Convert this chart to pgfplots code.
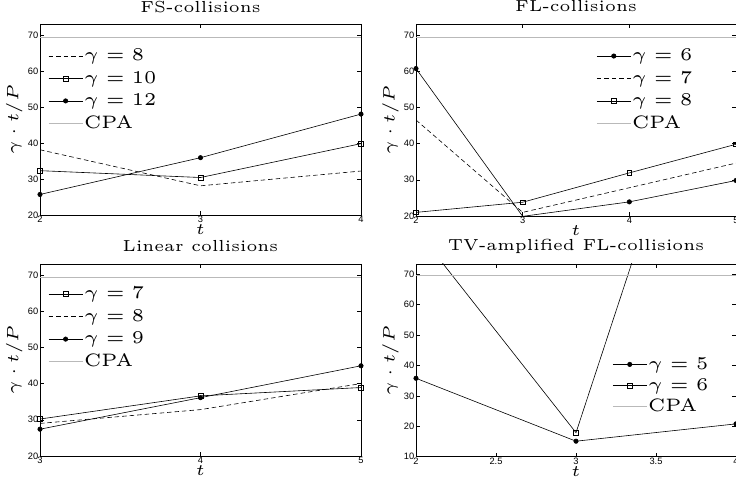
\documentclass[border=0pt]{standalone}
\usepackage{graphicx}
\usepackage{pgfplots}
\pgfplotsset{compat=1.18}
\usepackage{fontspec}
\setsansfont{Liberation Sans}
\newcommand{\cm}[2][3.2]{\scalebox{#1}{\fontsize{5}{6}\selectfont #2}}
\pgfplotsset{
  mystyle/.style={
    scale only axis, width=321pt, height=191pt,
    axis line style={line width=0.9pt},
    tick align=inside, major tick length=4pt,
    every tick/.style={black, line width=0.5pt},
    tick label style={font=\sffamily\fontsize{9.3}{10}\selectfont},
    /pgf/number format/assume math mode=true,
    xticklabel style={inner sep=1pt},
    yticklabel style={inner sep=1.5pt},
    title style={at={(axis description cs:0.5,1.06)}, anchor=center, inner sep=0pt},
    ylabel={\cm[3.3]{$\gamma\cdot t/P$}},
    ylabel style={at={(axis description cs:-0.08,0.5)}, anchor=center, inner sep=0pt},
    xlabel={\cm{$t$}},
    xlabel style={at={(axis description cs:0.5,-0.075)}, anchor=center, inner sep=0pt},
    legend style={draw=none, fill=none, row sep=3pt, inner sep=0pt,
      nodes={inner sep=1pt, text height=13.5pt, text depth=4pt}},
    legend cell align=left,
    legend image code/.code={\draw[mark repeat=2,mark phase=2] plot coordinates {(0pt,0pt)(17pt,0pt)(34pt,0pt)};},
    ymin=20, ymax=73, ytick={20,30,...,70},
    clip=true,
  },
  dotline/.style={black, line width=0.6pt, mark=*, mark size=2.2pt, mark options={solid, fill=black}},
  sqline/.style={black, line width=0.6pt, mark=square, mark size=2.4pt, mark options={solid, fill=white}},
  dashline/.style={black, line width=0.6pt, dash pattern=on 4.5pt off 3pt, no marks},
  cpa/.style={gray!55, line width=0.8pt, no marks},
}
\newcommand{\lgd}[1]{\addlegendentry{\cm[3.6]{#1}}}
\begin{document}
\begin{tikzpicture}[x=1pt,y=1pt]
\path[use as bounding box] (0,0) rectangle (736,487);
\clip (0,0) rectangle (736,487);
% Top-left
\begin{axis}[mystyle, at={(40pt,272pt)}, anchor=south west,
  title={\cm{FS-collisions}}, xmin=2, xmax=4, xtick={2,3,4},
  legend style={at={(axis description cs:0.025,0.885)}, anchor=north west}]
\addplot[dashline] coordinates {(2,38.1) (3,28.1) (4,32.2)};
\lgd{$\gamma=8$}
\addplot[sqline] coordinates {(2,32.3) (3,30.4) (4,39.8)};
\lgd{$\gamma=10$}
\addplot[dotline] coordinates {(2,25.7) (3,35.9) (4,48.0)};
\lgd{$\gamma=12$}
\addplot[cpa] coordinates {(2,69.4) (4,69.4)};
\lgd{CPA}
\end{axis}
% Top-right
\begin{axis}[mystyle, at={(416pt,271pt)}, anchor=south west, width=320pt, height=192pt,
  title={\cm{FL-collisions}}, xmin=2, xmax=5, xtick={2,3,4,5},
  legend style={at={(axis description cs:0.563,0.885)}, anchor=north west}]
\addplot[dotline] coordinates {(2,60.7) (3,19.9) (4,23.9) (5,29.8)};
\lgd{$\gamma=6$}
\addplot[dashline] coordinates {(2,46.5) (3,21.0) (4,27.8) (5,34.6)};
\lgd{$\gamma=7$}
\addplot[sqline] coordinates {(2,21.0) (3,23.8) (4,31.9) (5,39.8)};
\lgd{$\gamma=8$}
\addplot[cpa] coordinates {(2,69.4) (5,69.4)};
\lgd{CPA}
\end{axis}
% Bottom-left
\begin{axis}[mystyle, at={(40pt,31pt)}, anchor=south west, height=192pt,
  title={\cm{Linear collisions}}, xmin=3, xmax=5, xtick={3,4,5},
  legend style={at={(axis description cs:0.025,0.895)}, anchor=north west}]
\addplot[sqline] coordinates {(3,30.2) (4,36.6) (5,38.9)};
\lgd{$\gamma=7$}
\addplot[dashline] coordinates {(3,29.0) (4,32.8) (5,40.0)};
\lgd{$\gamma=8$}
\addplot[dotline] coordinates {(3,27.4) (4,36.1) (5,44.9)};
\lgd{$\gamma=9$}
\addplot[cpa] coordinates {(3,69.4) (5,69.4)};
\lgd{CPA}
\end{axis}
% Bottom-right
\begin{axis}[mystyle, at={(416pt,30.3pt)}, anchor=south west, width=320pt, height=192.7pt,
  title={\cm{TV-amplified FL-collisions}}, xmin=2, xmax=4, xtick={2,2.5,3,3.5,4},
  ymin=10, ymax=73.4, ytick={10,20,...,70},
  legend style={at={(axis description cs:0.613,0.37)}, anchor=west, row sep=1.5pt}]
\addplot[dotline] coordinates {(2,35.8) (3,15.1) (4,20.8)};
\lgd{$\gamma=5$}
\addplot[sqline] coordinates {(2,84.8) (3,17.9) (4,178)};
\lgd{$\gamma=6$}
\addplot[cpa] coordinates {(2,69.5) (4,69.5)};
\lgd{CPA}
\end{axis}
\end{tikzpicture}
\end{document}
